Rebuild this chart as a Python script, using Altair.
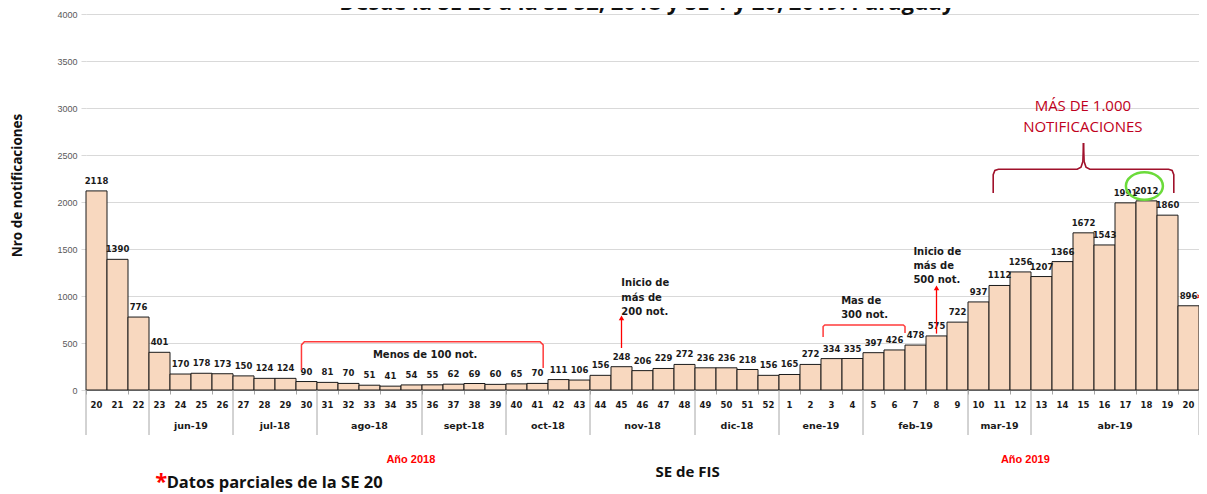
import altair as alt
import pandas as pd

# ---------------- data ----------------
weeks = [20, 21, 22, 23, 24, 25, 26, 27, 28, 29, 30, 31, 32, 33, 34, 35, 36, 37, 38, 39,
         40, 41, 42, 43, 44, 45, 46, 47, 48, 49, 50, 51, 52,
         1, 2, 3, 4, 5, 6, 7, 8, 9, 10, 11, 12, 13, 14, 15, 16, 17, 18, 19, 20]
values = [2118, 1390, 776, 401, 170, 178, 173, 150, 124, 124, 90, 81, 70, 51, 41, 54, 55, 62, 69, 60,
          65, 70, 111, 106, 156, 248, 206, 229, 272, 236, 236, 218, 156,
          165, 272, 334, 335, 397, 426, 478, 575, 722, 937, 1112, 1256, 1207, 1366, 1672, 1543, 1991, 2012, 1860, 896]
month_labels = ["", "jun-19", "jul-18", "ago-18", "sept-18", "oct-18", "nov-18", "dic-18",
                "ene-19", "feb-19", "mar-19", "abr-19"]
month_weeks = [3, 4, 4, 5, 4, 4, 5, 4, 4, 5, 3, 8]
y_ticks = [0, 500, 1000, 1500, 2000, 2500, 3000, 3500, 4000]
title_text = "Desde la SE 20 a la SE 52, 2018 y SE 1 y 20, 2019. Paraguay"
y_title = "Nro de notificaciones"
x_title = "SE de FIS"
footnote = "Datos parciales de la SE 20"
year_labels = ["Año 2018", "Año 2019"]

# ---------------- tables ----------------
n = len(weeks)
bars = pd.DataFrame({
    "i": list(range(n)),
    "i2": [k + 1 for k in range(n)],
    "c": [k + 0.5 for k in range(n)],
    "week": [str(w) for w in weeks],
    "value": values,
})
starts = []
acc = 0
for m in month_weeks:
    starts.append(acc)
    acc += m
months = pd.DataFrame({"c": [s + m / 2 for s, m in zip(starts, month_weeks)], "label": month_labels})
bounds = pd.DataFrame({"b": starts + [n]})

XS = alt.Scale(domain=[0, n], nice=False, zero=False)
YS = alt.Scale(domain=[0, 4000], nice=False, zero=True)
DJ = "DejaVu Sans"
OS = "Open Sans"
INK = "#1A1A1A"

x_axis = alt.Axis(values=list(range(n + 1)), labels=False, title=None, grid=False,
                  ticks=True, tickSize=4, tickColor="#A6A6A6", domainColor="#A6A6A6")
y_axis = alt.Axis(values=y_ticks, format="d", grid=True, gridColor="#D9D9D9", domain=False,
                  ticks=True, tickSize=5, tickColor="#D9D9D9", labelPadding=4,
                  labelFont="Liberation Sans", labelFontSize=9, labelColor="#595959",
                  title=y_title, titleFont=OS, titleFontSize=13.5, titleFontWeight="bold",
                  titleColor="#111111", titleX=-69, titleY=171, titleAngle=270,
                  titleAlign="center", titleBaseline="middle")

rects = alt.Chart(bars).mark_rect(fill="#F8D8BF", stroke=INK, strokeWidth=1).encode(
    x=alt.X("i:Q", scale=XS, axis=x_axis),
    x2="i2:Q",
    y=alt.Y("value:Q", scale=YS, axis=y_axis),
    y2=alt.datum(0),
)

bar_labels = alt.Chart(bars).mark_text(font=DJ, fontSize=8.5, fontWeight="bold", color=INK,
                                       baseline="middle", dy=-10).encode(
    x="c:Q", y="value:Q", text=alt.Text("value:Q", format="d"))

week_labels = alt.Chart(bars).mark_text(font=DJ, fontSize=8.5, fontWeight="bold", color=INK,
                                        baseline="middle").encode(
    x="c:Q", y=alt.value(391), text="week:N")

month_text = alt.Chart(months).mark_text(font=DJ, fontSize=9.5, fontWeight="bold", color=INK,
                                         baseline="middle").encode(
    x="c:Q", y=alt.value(412), text="label:N")

separators = alt.Chart(bounds).mark_rule(color="#A6A6A6", strokeWidth=1).encode(
    x="b:Q", y=alt.value(376), y2=alt.value(421))

# ---------------- annotations ----------------
ann_center = pd.DataFrame({"x": [16.15], "y": [372], "t": ["Menos de 100 not."]})
ann_left = pd.DataFrame({
    "x": [25.49, 25.49, 25.49, 35.96, 35.96, 39.4, 39.4, 39.4],
    "y": [1138, 984, 830, 947, 803, 1468, 1319, 1165],
    "t": ["Inicio de", "más de", "200 not.", "Mas de", "300 not.", "Inicio de", "más de", "500 not."],
})
t_center = alt.Chart(ann_center).mark_text(font=DJ, fontSize=10, fontWeight="bold", color=INK,
                                           baseline="middle", align="center").encode(
    x="x:Q", y="y:Q", text="t:N")
t_left = alt.Chart(ann_left).mark_text(font=DJ, fontSize=10, fontWeight="bold", color=INK,
                                       baseline="middle", align="left").encode(
    x="x:Q", y="y:Q", text="t:N")

red_pts = [
    ("menos", [(10.26, 213), (10.26, 480), (10.4, 514), (21.62, 514), (21.77, 480), (21.77, 234)]),
    ("mas", [(35.1, 564), (35.1, 675), (35.18, 691), (38.92, 691), (39.0, 675), (39.0, 606)]),
]
brace_pts = [
    ("bl", [(43.2, 2096), (43.2, 2290), (43.28, 2335), (43.45, 2348), (47.2, 2348),
            (47.38, 2370), (47.47, 2430), (47.5, 2628)]),
    ("br", [(47.5, 2628), (47.53, 2430), (47.62, 2370), (47.8, 2348), (51.55, 2348),
            (51.72, 2335), (51.8, 2290), (51.8, 2096)]),
]


def to_df(groups):
    rows = []
    for g, pts in groups:
        for k, (px, py) in enumerate(pts):
            rows.append({"g": g, "o": k, "x": px, "y": py})
    return pd.DataFrame(rows)


red_lines = alt.Chart(to_df(red_pts)).mark_line(color="#FF3B3B", strokeWidth=1.5).encode(
    x="x:Q", y="y:Q", detail="g:N", order="o:Q")
brace = alt.Chart(to_df(brace_pts)).mark_line(color="#A0112B", strokeWidth=1.6).encode(
    x="x:Q", y="y:Q", detail="g:N", order="o:Q")

arrows = pd.DataFrame({"x": [25.5, 40.5], "y": [447, 600], "y2": [765, 1085], "tip": [768, 1087]})
arrow_rules = alt.Chart(arrows).mark_rule(color="#FF0000", strokeWidth=1.3).encode(
    x="x:Q", y="y:Q", y2="y2:Q")
arrow_heads = alt.Chart(arrows).mark_point(shape="triangle-up", filled=True, size=30,
                                           color="#FF0000", opacity=1).encode(
    x="x:Q", y="tip:Q")

big = pd.DataFrame({"x": [47.47, 47.47], "y": [3016, 2803], "t": ["MÁS DE 1.000", "NOTIFICACIONES"]})
big_text = alt.Chart(big).mark_text(font=OS, fontSize=15, color="#C00020", baseline="middle").encode(
    x="x:Q", y="y:Q", text="t:N")

ring = alt.Chart(pd.DataFrame({"x": [50.4], "y": [2170]})).mark_point(
    shape="M-1,0A1,0.74,0,1,0,1,0A1,0.74,0,1,0,-1,0Z", filled=False, size=1369,
    color="#6BDB3A", strokeWidth=2.5, opacity=1).encode(x="x:Q", y="y:Q")

star896 = alt.Chart(pd.DataFrame({"x": [52.5], "y": [896], "t": ["*"]})).mark_text(
    font=DJ, fontSize=14, fontWeight="bold", color="#FF0000", align="left", baseline="middle",
    dx=8, dy=-7).encode(x="x:Q", y="y:Q", text="t:N")

years = alt.Chart(pd.DataFrame({"x": [15.47, 44.73], "t": year_labels})).mark_text(
    font="Liberation Sans", fontSize=11, fontWeight="bold", color="#FF0000", baseline="middle").encode(
    x="x:Q", y=alt.value(446), text="t:N")

xtitle = alt.Chart(pd.DataFrame({"x": [28.65], "t": [x_title]})).mark_text(
    font=OS, fontSize=15, fontWeight="bold", color="#111111", baseline="middle").encode(
    x="x:Q", y=alt.value(458), text="t:N")

foot = alt.Chart(pd.DataFrame({"x": [3.84], "t": [footnote]})).mark_text(
    font=OS, fontSize=16.5, fontWeight="bold", color="#111111", align="left", baseline="alphabetic").encode(
    x="x:Q", y=alt.value(474), text="t:N")
foot_star = alt.Chart(pd.DataFrame({"x": [3.58], "t": ["*"]})).mark_text(
    font=OS, fontSize=22, fontWeight="bold", color="#FF0000", align="center", baseline="alphabetic").encode(
    x="x:Q", y=alt.value(475), text="t:N")

title = alt.Chart(pd.DataFrame({"x": [26.7], "t": [title_text]})).mark_text(
    font=OS, fontSize=22, fontWeight="bold", color="#111111", align="center", baseline="alphabetic").encode(
    x="x:Q", y=alt.value(-4), text="t:N")

chart = alt.layer(
    rects, separators, bar_labels, week_labels, month_text,
    red_lines, brace, arrow_rules, arrow_heads, t_center, t_left, big_text, ring, star896,
    years, xtitle, foot, foot_star, title,
).properties(
    width=1113, height=376,
    autosize=alt.AutoSizeParams(type="none"),
    padding={"left": 78, "top": 6, "right": 0, "bottom": 102},
).configure_view(strokeWidth=0)

chart.save("out.html", embed_options={"renderer": "svg", "actions": False})
